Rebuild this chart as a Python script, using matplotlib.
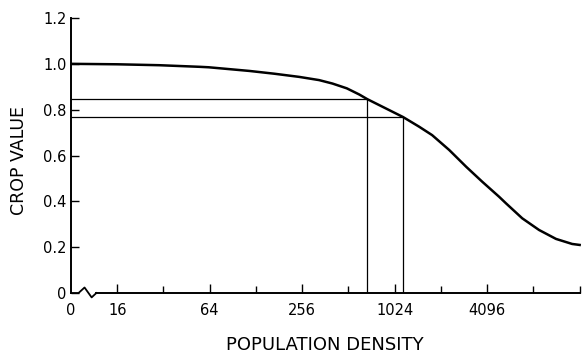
import numpy as np
import matplotlib.pyplot as plt
import matplotlib.transforms as mtransforms

# population density (0 = no population) and crop value
density = [0, 16, 30, 55, 63, 116, 168, 245, 330, 403, 500, 603, 679, 1160,
           1475, 1795, 2320, 2990, 3800, 4900, 5440, 6930, 8920, 11500,
           14650, 16700]
crop_value = [1.0, 0.998, 0.994, 0.987, 0.985, 0.969, 0.957, 0.943, 0.929,
              0.914, 0.893, 0.866, 0.846, 0.768, 0.726, 0.689, 0.624, 0.551,
              0.486, 0.42, 0.391, 0.326, 0.275, 0.236, 0.214, 0.209]

# two marked operating points
ref_density = [679, 1160]
ref_value = [0.846, 0.768]

major_ticks = [16, 64, 256, 1024, 4096]
minor_ticks = [32, 128, 512, 2048, 8192, 16384]
y_ticks = [0, 0.2, 0.4, 0.6, 0.8, 1.0, 1.2]
y_labels = ['0', '0.2', '0.4', '0.6', '0.8', '1.0', '1.2']

ZERO_AT = 8  # where density 0 sits on the broken log axis


def xpos(d):
    return [ZERO_AT if v == 0 else v for v in d]


plt.rcParams['font.family'] = ['DejaVu Sans']

fig = plt.figure(figsize=(5.83, 3.55), dpi=100)
ax = fig.add_axes([71 / 583, 62 / 355, 510 / 583, 275 / 355])

ax.plot(xpos(density), crop_value, color='black', lw=1.8, clip_on=False,
        solid_capstyle='butt', solid_joinstyle='round')

for d, v in zip(ref_density, ref_value):
    ax.hlines(v, ZERO_AT, d, color='black', lw=0.9)
    ax.vlines(d, 0, v, color='black', lw=0.9)

ax.set_xscale('log', base=2)
ax.set_xlim(ZERO_AT, 2 ** 14.03)
ax.set_ylim(0, 1.2)

ax.set_xticks([ZERO_AT] + major_ticks)
ax.set_xticklabels(['0'] + [str(t) for t in major_ticks])
ax.set_xticks(minor_ticks, minor=True)
ax.set_xticklabels([], minor=True)
ax.set_yticks(y_ticks)
ax.set_yticklabels(y_labels)

ax.tick_params(axis='both', which='both', direction='in', width=1.0,
               labelsize=10.5, colors='black')
ax.tick_params(axis='x', which='major', length=6.5, pad=7)
ax.tick_params(axis='x', which='minor', length=5)
ax.tick_params(axis='y', length=6, pad=3)
# no tick mark at the "0" corner
ax.xaxis.get_major_ticks()[0].tick1line.set_visible(False)

for s in ['top', 'right']:
    ax.spines[s].set_visible(False)
ax.spines['left'].set_linewidth(1.4)
ax.spines['bottom'].set_linewidth(1.4)
ax.spines['bottom'].set_bounds(11.7, 16384)

# axis break zigzag between 0 and 16
trans = mtransforms.blended_transform_factory(ax.transData, ax.transAxes)
brk_x = [ZERO_AT, 8.96, 9.8, 10.9, 11.7]
brk_y = [0, 0, 0.02, -0.016, 0]
ax.plot(brk_x, brk_y, color='black', lw=1.3, transform=trans, clip_on=False)

fig.text(325 / 583, 1 - 345 / 355, 'POPULATION DENSITY', ha='center',
         va='center', fontsize=13)
fig.text(19 / 583, 1 - 160 / 355, 'CROP VALUE', ha='center', va='center',
         rotation=90, fontsize=12.5)

fig.savefig('out.png', dpi=100)
